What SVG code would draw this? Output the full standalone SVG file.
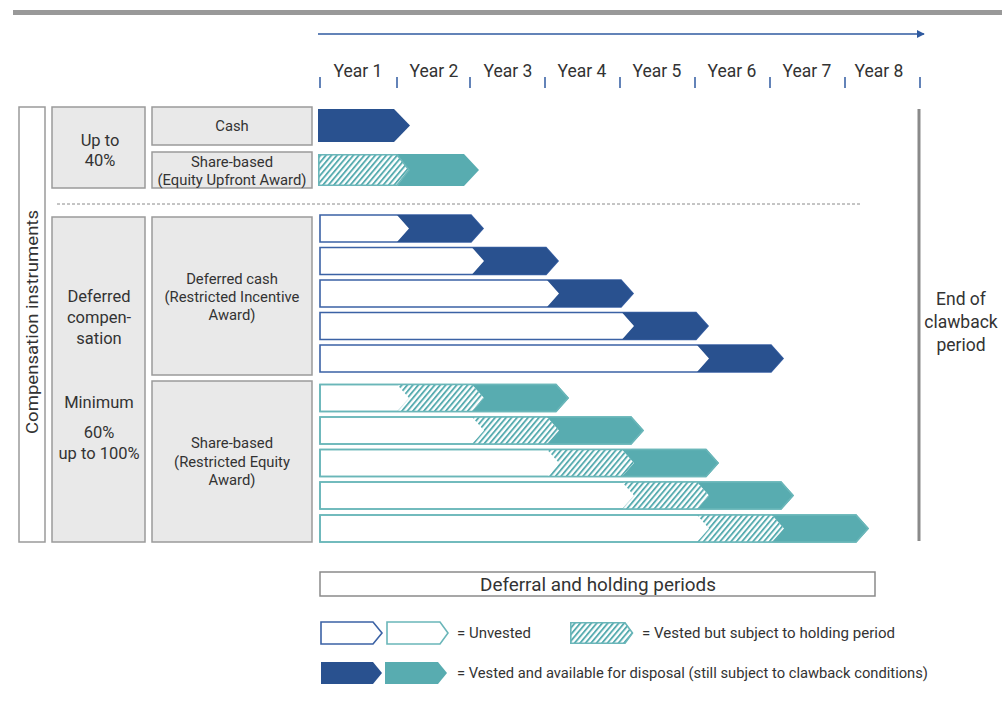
<svg xmlns="http://www.w3.org/2000/svg" width="1002" height="703" viewBox="0 0 1002 703">
<defs>
<pattern id="hatch" patternUnits="userSpaceOnUse" width="4.2" height="10" patternTransform="rotate(40)">
<rect width="4.2" height="10" fill="#ffffff"/>
<rect width="1.9" height="10" fill="#58acb0"/>
</pattern>
<marker id="arr" viewBox="0 0 10 10" refX="9" refY="5" markerWidth="8" markerHeight="8" markerUnits="userSpaceOnUse" orient="auto">
<path d="M0,0 L10,5 L0,10 z" fill="#2f5aa0"/>
</marker>
<style>
.box{fill:#e9e9e9;stroke:#9a9a9a;stroke-width:1.5}
.t{font-family:Roboto,"Liberation Sans",sans-serif;fill:#333;text-anchor:middle}
.s{font-size:14.8px}
.m{font-size:16.5px}
.y{font-size:17.5px}
.l{font-size:14.5px;text-anchor:start}
.blue{fill:#29518f}
.teal{fill:#58acb0}
.h{fill:url(#hatch)}
.ob{fill:#fff;stroke:#3b62a5;stroke-width:1.6}
.ot{fill:#fff;stroke:#6ab6b9;stroke-width:1.6}
.otn{fill:none;stroke:#6ab6b9;stroke-width:1.6}
.tick{stroke:#2f5aa0;stroke-width:1.5}
</style>
</defs>

<rect x="13" y="10" width="989" height="5" fill="#999"/>

<g id="timeline">
<line x1="318" y1="34" x2="924" y2="34" stroke="#2f5aa0" stroke-width="1.6" marker-end="url(#arr)"/>
<line class="tick" x1="320" y1="77" x2="320" y2="88"/>
<line class="tick" x1="397" y1="77" x2="397" y2="88"/>
<line class="tick" x1="470" y1="77" x2="470" y2="88"/>
<line class="tick" x1="545" y1="77" x2="545" y2="88"/>
<line class="tick" x1="620" y1="77" x2="620" y2="88"/>
<line class="tick" x1="695" y1="77" x2="695" y2="88"/>
<line class="tick" x1="770" y1="77" x2="770" y2="88"/>
<line class="tick" x1="845" y1="77" x2="845" y2="88"/>
<line class="tick" x1="920" y1="77" x2="920" y2="88"/>
<text class="t y" x="358" y="77">Year 1</text>
<text class="t y" x="434" y="77">Year 2</text>
<text class="t y" x="508" y="77">Year 3</text>
<text class="t y" x="582" y="77">Year 4</text>
<text class="t y" x="657" y="77">Year 5</text>
<text class="t y" x="732" y="77">Year 6</text>
<text class="t y" x="807" y="77">Year 7</text>
<text class="t y" x="879" y="77">Year 8</text>
</g>

<g id="comp-instruments">
<rect x="19" y="107" width="26" height="435" fill="#fff" stroke="#9a9a9a" stroke-width="1.5"/>
<text class="t m" transform="translate(38,322) rotate(-90)" textLength="224" lengthAdjust="spacingAndGlyphs">Compensation instruments</text>
</g>

<g id="upto40">
<rect class="box" x="52" y="107" width="93" height="81"/>
<text class="t m" x="100" y="146">Up to</text>
<text class="t m" x="100" y="166">40%</text>
</g>

<g id="cash">
<rect class="box" x="152" y="107" width="160" height="38"/>
<text class="t s" x="232" y="131">Cash</text>
</g>

<g id="share-upfront">
<rect class="box" x="152" y="152" width="160" height="36"/>
<text class="t s" x="232" y="167">Share-based</text>
<text class="t s" x="232" y="185">(Equity Upfront Award)</text>
</g>

<g id="deferred">
<rect class="box" x="52" y="217" width="93" height="325"/>
<text class="t m" x="99" y="302">Deferred</text>
<text class="t m" x="99" y="323">compen-</text>
<text class="t m" x="99" y="344">sation</text>
<text class="t m" x="99" y="408">Minimum</text>
<text class="t m" x="99" y="438">60%</text>
<text class="t m" x="99" y="459">up to 100%</text>
</g>

<g id="deferred-cash">
<rect class="box" x="152" y="217" width="160" height="158"/>
<text class="t s" x="232" y="284">Deferred cash</text>
<text class="t s" x="232" y="302">(Restricted Incentive</text>
<text class="t s" x="232" y="320">Award)</text>
</g>

<g id="share-restricted">
<rect class="box" x="152" y="381" width="160" height="161"/>
<text class="t s" x="232" y="448">Share-based</text>
<text class="t s" x="232" y="467">(Restricted Equity</text>
<text class="t s" x="232" y="485">Award)</text>
</g>

<line x1="57" y1="204" x2="860" y2="204" stroke="#8a8a8a" stroke-width="1" stroke-dasharray="3,2"/>

<g id="bars-upfront">
<polygon class="blue" points="318,109 394,109 410,125.5 394,142 318,142"/>
<polygon class="teal" points="394,154 464,154 479,170 464,186 394,186 406,170"/>
<polygon class="h" points="318,154 397,154 409,170 397,186 318,186"/>
<polygon class="otn" points="318.8,154.8 397,154.8 409,170 397,185.2 318.8,185.2"/>
</g>

<g id="bars-deferred-cash">
<polygon class="ob" points="320,215 471,215 483,228.5 471,242 320,242"/>
<polygon class="blue" points="397,215 471,215 483,228.5 471,242 397,242 409,228.5"/>
<polygon class="ob" points="320,247.5 546,247.5 558,261 546,274.5 320,274.5"/>
<polygon class="blue" points="472,247.5 546,247.5 558,261 546,274.5 472,274.5 484,261"/>
<polygon class="ob" points="320,280 621,280 633,293.5 621,307 320,307"/>
<polygon class="blue" points="547,280 621,280 633,293.5 621,307 547,307 559,293.5"/>
<polygon class="ob" points="320,312.5 696,312.5 708,326 696,339.5 320,339.5"/>
<polygon class="blue" points="622,312.5 696,312.5 708,326 696,339.5 622,339.5 634,326"/>
<polygon class="ob" points="320,345 771,345 783,358.5 771,372 320,372"/>
<polygon class="blue" points="697,345 771,345 783,358.5 771,372 697,372 709,358.5"/>
</g>

<g id="bars-share">
<polygon class="ot" points="320,384.5 556,384.5 568,398 556,411.5 320,411.5"/>
<polygon class="h" points="397,384.5 472,384.5 484,398 472,411.5 397,411.5 409,398"/>
<polygon class="teal" points="472,384.5 556,384.5 568,398 556,411.5 472,411.5 484,398"/>
<polygon class="otn" points="320,384.5 556,384.5 568,398 556,411.5 320,411.5"/>

<polygon class="ot" points="320,417 631,417 643,430.5 631,444 320,444"/>
<polygon class="h" points="472,417 547,417 559,430.5 547,444 472,444 484,430.5"/>
<polygon class="teal" points="547,417 631,417 643,430.5 631,444 547,444 559,430.5"/>
<polygon class="otn" points="320,417 631,417 643,430.5 631,444 320,444"/>

<polygon class="ot" points="320,449.5 706,449.5 718,463 706,476.5 320,476.5"/>
<polygon class="h" points="547,449.5 622,449.5 634,463 622,476.5 547,476.5 559,463"/>
<polygon class="teal" points="622,449.5 706,449.5 718,463 706,476.5 622,476.5 634,463"/>
<polygon class="otn" points="320,449.5 706,449.5 718,463 706,476.5 320,476.5"/>

<polygon class="ot" points="320,482 781,482 793,495.5 781,509 320,509"/>
<polygon class="h" points="622,482 697,482 709,495.5 697,509 622,509 634,495.5"/>
<polygon class="teal" points="697,482 781,482 793,495.5 781,509 697,509 709,495.5"/>
<polygon class="otn" points="320,482 781,482 793,495.5 781,509 320,509"/>

<polygon class="ot" points="320,515 856,515 868,528.5 856,542 320,542"/>
<polygon class="h" points="697,515 772,515 784,528.5 772,542 697,542 709,528.5"/>
<polygon class="teal" points="772,515 856,515 868,528.5 856,542 772,542 784,528.5"/>
<polygon class="otn" points="320,515 856,515 868,528.5 856,542 320,542"/>
</g>

<g id="clawback">
<line x1="919" y1="109" x2="919" y2="541" stroke="#8a8a8a" stroke-width="3"/>
<text class="t y" x="961" y="305">End of</text>
<text class="t y" x="961" y="328">clawback</text>
<text class="t y" x="961" y="351">period</text>
</g>

<g id="deferral-periods">
<rect x="320" y="572" width="555" height="24" fill="#fff" stroke="#8a8a8a" stroke-width="1.5"/>
<text class="t" style="font-size:18px" x="598" y="591" textLength="236" lengthAdjust="spacingAndGlyphs">Deferral and holding periods</text>
</g>

<g id="legend">
<polygon class="ob" points="321,622 373,622 382,633 373,644 321,644"/>
<polygon class="ot" points="387,622 440,622 448,633 440,644 387,644"/>
<text class="t l" x="457" y="638" textLength="74" lengthAdjust="spacingAndGlyphs">= Unvested</text>
<polygon class="h" points="570,622 625,622 633,633 625,644 570,644"/>
<polygon class="otn" points="570.8,622.8 625,622.8 632.5,633 625,643.2 570.8,643.2"/>
<text class="t l" x="642" y="638" textLength="253" lengthAdjust="spacingAndGlyphs">= Vested but subject to holding period</text>
<polygon class="blue" points="321,662 373,662 382,673 373,684 321,684"/>
<polygon class="teal" points="385,662 438,662 447,673 438,684 385,684"/>
<text class="t l" x="457" y="678" textLength="471" lengthAdjust="spacingAndGlyphs">= Vested and available for disposal (still subject to clawback conditions)</text>
</g>
</svg>
